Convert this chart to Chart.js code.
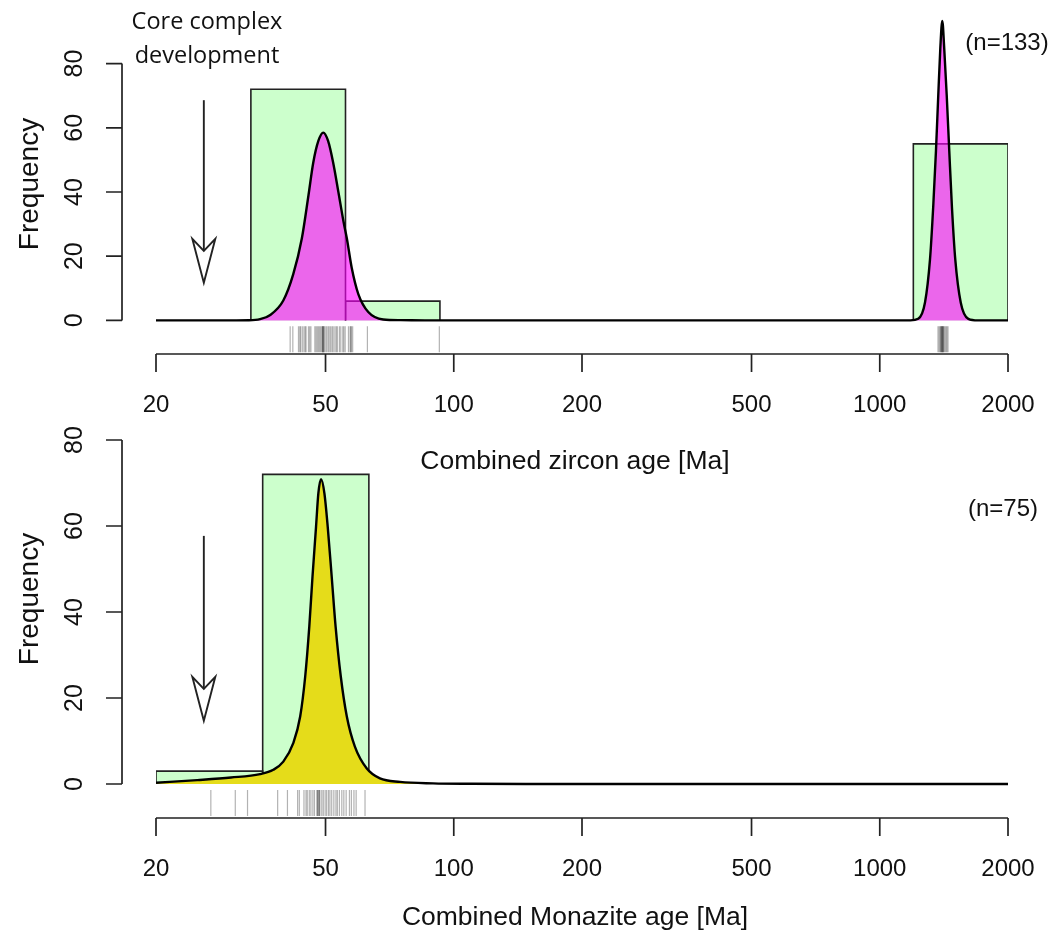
<!DOCTYPE html>
<html>
<head>
<meta charset="utf-8">
<script src="https://cdn.jsdelivr.net/npm/chart.js@4.4.1/dist/chart.umd.min.js"></script>
<style>
  body { margin: 0; background: #fff; }
  #wrap { position: relative; width: 1061px; height: 944px; }
  canvas { position: absolute; left: 0; top: 0; }
</style>
</head>
<body>
<div id="wrap">
  <canvas id="zircon" width="1061" height="944"></canvas>
  <canvas id="monazite" width="1061" height="944"></canvas>
</div>
<script>
// Axis ticks (shared by both panels)
const xTicks = [20, 50, 100, 200, 500, 1000, 2000];
const yTicks = [0, 20, 40, 60, 80];

// Zircon histogram: bin edges (Ma) and counts
const zirconEdges = [20, 33.4, 55.7, 92.8, 154.9, 258.5, 431.1, 719.7, 1199, 2000];
const zirconCounts = [0, 72, 6, 0, 0, 0, 0, 0, 55];

// Zircon density curve
const zirconDensAge = [20, 30, 33, 35.1, 37.0, 39.8, 42.0, 44.0, 45.6, 46.8, 48.1, 49.4, 50.7, 52.1, 53.6,
    55.1, 56.1, 57.6, 59.7, 63.0, 68.3, 75, 90, 120, 1000, 1180, 1231, 1277, 1312, 1335, 1355, 1372,
    1387, 1402, 1417, 1436, 1456, 1477, 1504, 1549, 1614, 1700, 2000];
const zirconDensVal = [0, 0, 0.05, 0.4, 1.6, 6.2, 14.4, 25.6, 39, 49.2, 55.9, 58.5, 55.9, 49.2, 40,
    30.8, 25.6, 16.4, 8.2, 2.6, 0.3, 0.1, 0, 0, 0, 0, 0.5, 5.6, 19, 35.4, 52.8, 70.2,
    84.6, 93.3, 84.6, 70.2, 52.8, 35.4, 19, 5.6, 0.5, 0, 0];

// Zircon single-grain ages (rug)
const zirconRug = [41.3, 41.9, 43.2, 43.5, 43.7, 44.1, 44.5, 44.8, 45.0, 45.6, 45.9, 46.2, 47.2, 47.5,
    47.8, 48.1, 48.4, 48.7, 49.0, 49.2, 49.3, 49.3, 49.5, 49.6, 49.9, 50.3, 50.7, 51.0, 51.4, 51.8,
    52.1, 52.6, 53.0, 53.3, 53.9, 54.3, 54.9, 55.2, 55.6, 56.6, 57.1, 57.3, 57.5, 57.9, 62.7, 92.5,
    1370, 1378, 1385, 1390, 1393, 1397, 1400, 1402, 1404, 1408, 1412, 1415, 1423, 1431, 1438, 1446];

// Monazite histogram
const monaziteEdges = [20, 35.6, 63.2, 112.5, 200, 355.7, 632.5, 1124.7, 2000];
const monaziteCounts = [3, 72, 0, 0, 0, 0, 0, 0];

// Monazite density curve
const monaziteDensAge = [20, 25, 30, 35.1, 37.7, 39.8, 42.0, 43.6, 44.8, 45.8, 46.6, 47.5, 48.1, 48.8,
    49.7, 50.6, 51.7, 52.8, 54.3, 56.1, 58.6, 62.5, 67.1, 74.8, 89.4, 110, 150, 2000];
const monaziteDensVal = [0.3, 0.9, 1.5, 2.3, 3.3, 5.2, 9.5, 15.7, 25, 36.6, 48.2, 59.8, 67.6, 70.9,
    67.6, 59.8, 48.2, 36.6, 25, 15.7, 8.7, 3.6, 1.3, 0.5, 0.15, 0.05, 0, 0];

// Monazite single-grain ages (rug)
const monaziteRug = [26.9, 30.7, 32.8, 38.6, 40.7, 43.0, 43.4, 44.5, 45.0, 45.3, 45.8, 46.2, 46.7, 47.1,
    47.7, 47.9, 48.0, 48.3, 48.3, 48.5, 49.0, 49.4, 49.9, 50.3, 50.8, 51.2, 51.7, 52.3, 52.9, 53.3,
    53.9, 54.6, 55.2, 55.9, 56.9, 57.5, 58.3, 59.0, 61.9];

const tickFont = '24px "Liberation Sans", Arial, sans-serif';
const titleFont = '26.5px "Liberation Sans", Arial, sans-serif';

// R-style axes, labels and annotations, positioned through the chart scales
const rStyle = {
    id: 'rStyle',
    afterDraw(chart, args, o) {
        const ctx = chart.ctx;
        const xs = chart.scales.x, ys = chart.scales.y;
        const axisY = chart.chartArea.bottom;
        ctx.save();
        ctx.strokeStyle = '#222';
        ctx.fillStyle = '#111';
        ctx.lineWidth = 1.7;

        // x axis
        ctx.beginPath();
        ctx.moveTo(xs.getPixelForValue(xTicks[0]), axisY);
        ctx.lineTo(xs.getPixelForValue(xTicks[xTicks.length - 1]), axisY);
        xTicks.forEach(t => {
            const px = xs.getPixelForValue(t);
            ctx.moveTo(px, axisY);
            ctx.lineTo(px, axisY + 18);
        });
        ctx.stroke();
        ctx.font = tickFont;
        ctx.textAlign = 'center';
        ctx.textBaseline = 'middle';
        xTicks.forEach(t => ctx.fillText(String(t), xs.getPixelForValue(t), axisY + 51));

        // y axis
        const ax = 122;
        ctx.beginPath();
        ctx.moveTo(ax, ys.getPixelForValue(yTicks[0]));
        ctx.lineTo(ax, ys.getPixelForValue(yTicks[yTicks.length - 1]));
        yTicks.forEach(t => {
            const py = ys.getPixelForValue(t);
            ctx.moveTo(ax, py);
            ctx.lineTo(ax - 16, py);
        });
        ctx.stroke();
        ctx.font = '25px "Liberation Sans", Arial, sans-serif';
        yTicks.forEach(t => {
            ctx.save();
            ctx.translate(75, ys.getPixelForValue(t));
            ctx.rotate(-Math.PI / 2);
            ctx.fillText(String(t), 0, 0);
            ctx.restore();
        });

        // axis titles
        ctx.font = titleFont;
        ctx.fillText(o.xTitle, 575, o.xTitleY);
        ctx.save();
        ctx.translate(30, o.freqY);
        ctx.rotate(-Math.PI / 2);
        ctx.font = '28px "Liberation Sans", Arial, sans-serif';
        ctx.fillText('Frequency', 0, 0);
        ctx.restore();

        // sample size
        ctx.font = tickFont;
        ctx.fillText(o.nLabel, o.nX, o.nY);

        // arrow
        const arx = xs.getPixelForValue(o.arrow.age);
        const top = ys.getPixelForValue(o.arrow.from);
        const tip = ys.getPixelForValue(o.arrow.to);
        ctx.lineWidth = 1.9;
        ctx.beginPath();
        ctx.moveTo(arx, top);
        ctx.lineTo(arx, tip - 32);
        ctx.stroke();
        ctx.beginPath();
        ctx.moveTo(arx, tip);
        ctx.lineTo(arx - 11.5, tip - 44);
        ctx.lineTo(arx, tip - 32);
        ctx.lineTo(arx + 11.5, tip - 44);
        ctx.closePath();
        ctx.fillStyle = '#fff';
        ctx.fill();
        ctx.stroke();

        // note text
        if (o.note) {
            ctx.fillStyle = '#111';
            ctx.font = '23.5px "Open Sans", "Noto Sans", sans-serif';
            ctx.textBaseline = 'alphabetic';
            o.note.forEach((line, i) => ctx.fillText(line, 207, 29 + i * 34));
        }
        ctx.restore();
    }
};

function makePanel(id, edges, counts, densAge, densVal, rug, fillColor, yMin, yMax, rugY, padding, text) {
    const datasets = [];
    // histogram bars as closed rectangles
    for (let i = 0; i < counts.length; i++) {
        if (!counts[i]) continue;
        datasets.push({
            type: 'line',
            data: [
                {x: edges[i], y: 0}, {x: edges[i], y: counts[i]},
                {x: edges[i + 1], y: counts[i]}, {x: edges[i + 1], y: 0}
            ],
            borderColor: '#222',
            borderWidth: 1.6,
            backgroundColor: '#ccffcc',
            fill: 'origin',
            pointRadius: 0,
            tension: 0,
            order: 3
        });
    }
    // density curve
    datasets.push({
        type: 'line',
        data: densAge.map((a, i) => ({x: a, y: densVal[i]})),
        borderColor: '#000',
        borderWidth: 2.4,
        backgroundColor: fillColor,
        fill: 'origin',
        pointRadius: 0,
        cubicInterpolationMode: 'monotone',
        clip: false,
        order: 2
    });
    // rug
    datasets.push({
        type: 'scatter',
        data: rug.map(a => ({x: a, y: rugY})),
        pointStyle: 'line',
        rotation: 90,
        pointRadius: 13,
        borderColor: 'rgba(0,0,0,0.3)',
        borderWidth: 1.2,
        order: 1
    });

    return new Chart(document.getElementById(id), {
        type: 'line',
        data: {datasets: datasets},
        plugins: [rStyle],
        options: {
            responsive: false,
            animation: false,
            events: [],
            layout: {padding: padding},
            scales: {
                x: {type: 'logarithmic', min: 20, max: 2000, display: false},
                y: {type: 'linear', min: yMin, max: yMax, display: false}
            },
            plugins: {
                legend: {display: false},
                tooltip: {enabled: false},
                rStyle: text
            }
        }
    });
}

// top panel: 3.25 px per unit, chart area 10..354
makePanel('zircon', zirconEdges, zirconCounts, zirconDensAge, zirconDensVal, zirconRug,
    'rgba(255,0,255,0.6)', -34 / 3.25, 80 + 50 / 3.25, -19 / 3.25,
    {left: 156, right: 53, top: 10, bottom: 590},
    {
        xTitle: 'Combined zircon age [Ma]', xTitleY: 462, freqY: 184,
        nLabel: '(n=133)', nX: 1007, nY: 43,
        arrow: {age: 25.9, from: 68.6, to: 11.7},
        note: ['Core complex', 'development']
    });

// bottom panel: 4.3 px per unit, chart area 440..818
makePanel('monazite', monaziteEdges, monaziteCounts, monaziteDensAge, monaziteDensVal, monaziteRug,
    'rgb(229,220,26)', -34 / 4.3, 80, -19 / 4.3,
    {left: 156, right: 53, top: 440, bottom: 126},
    {
        xTitle: 'Combined Monazite age [Ma]', xTitleY: 918, freqY: 599,
        nLabel: '(n=75)', nX: 1003, nY: 509,
        arrow: {age: 25.9, from: 57.7, to: 14.7}
    });
</script>
</body>
</html>
